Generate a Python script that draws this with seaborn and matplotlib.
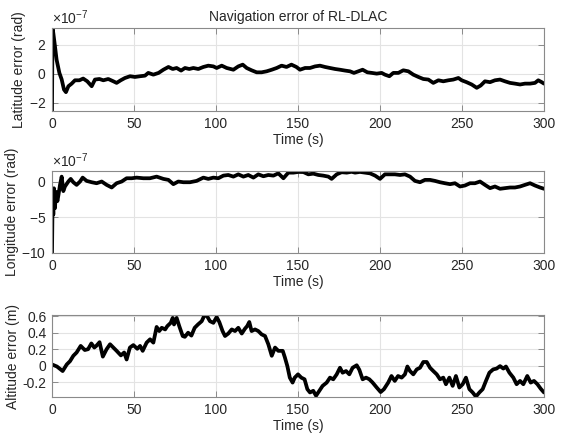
import matplotlib
matplotlib.use("Agg")
import matplotlib.pyplot as plt
import matplotlib.ticker as mticker
import numpy as np
import pandas as pd
import seaborn as sns

# ---------------- data ----------------
TIME_TICKS = [0, 50, 100, 150, 200, 250, 300]

# latitude error, units of 1e-7 rad
LAT = [(0, -2.6), (0.3, 3.1), (0.8, 2.8), (1.8, 1.9), (2.8, 0.96), (4.5, 0.05), (5.9, -0.4),
       (7.3, -1.1), (8.5, -1.28), (10, -0.87), (12, -0.69), (14, -0.46), (16.7, -0.46),
       (19, -0.34), (21.5, -0.53), (24.2, -0.87), (26.2, -0.41), (28.9, -0.37), (31.3, -0.46),
       (34.3, -0.37), (37.4, -0.53), (39.4, -0.64), (41.9, -0.46), (44.5, -0.30), (47.6, -0.18),
       (50.6, -0.23), (53.7, -0.18), (56.7, -0.14), (58.7, 0.05), (61.8, -0.07), (65, 0.05),
       (67.9, 0.27), (71, 0.46), (73.6, 0.32), (76, 0.39), (78.7, 0.21), (81.1, 0.39),
       (83.7, 0.32), (86.2, 0.39), (89.2, 0.32), (92.3, 0.46), (95.3, 0.55), (98.4, 0.50),
       (100.4, 0.39), (103.5, 0.55), (106.5, 0.39), (110.6, 0.27), (113.6, 0.50), (116.3, 0.62),
       (118.7, 0.39), (121.7, 0.23), (124.8, 0.09), (127.8, 0.09), (130.9, 0.16), (134, 0.27),
       (137, 0.39), (140, 0.55), (143, 0.46), (146, 0.62), (149, 0.46), (151.2, 0.27),
       (154.3, 0.39), (157.3, 0.39), (160.4, 0.50), (163.4, 0.55), (166.5, 0.46), (169.5, 0.39),
       (172.6, 0.32), (175.6, 0.27), (178.7, 0.21), (181.7, 0.16), (184.1, 0.05), (186.8, 0.16),
       (189.4, 0.27), (192.3, 0.09), (195, 0.05), (198, 0.0), (201, 0.05), (203, -0.07),
       (205.7, -0.18), (208.1, 0.05), (211.2, 0.05), (214.2, 0.23), (217.3, 0.16), (220.3, -0.07),
       (223.4, -0.23), (226.4, -0.37), (229.5, -0.41), (232.5, -0.64), (235.6, -0.46),
       (238.6, -0.53), (241.7, -0.46), (244.7, -0.41), (247.8, -0.30), (249.8, -0.46),
       (252.8, -0.59), (255.9, -0.75), (259, -0.98), (261.4, -0.82), (264, -0.53), (267.1, -0.59),
       (270.1, -0.46), (273.2, -0.41), (276.2, -0.53), (279.3, -0.64), (282.3, -0.69),
       (285.4, -0.75), (288.4, -0.69), (291.5, -0.69), (294.5, -0.64), (296.5, -0.46),
       (298.6, -0.59), (300, -0.69)]

# longitude error, units of 1e-7 rad
LON = [(0, -10.0), (0.4, -1.8), (0.8, -4.6), (1.2, -0.9), (1.8, -3.7), (2.4, -1.4), (3.3, -2.7),
       (4.1, -1.6), (4.9, -0.4), (5.9, 0.74), (6.9, -1.3), (7.9, -0.65), (9.96, 0.05),
       (11.4, 0.42), (13, -0.05), (15, -0.42), (17.1, 0.05), (18.7, 0.6), (21.1, 0.14),
       (24.2, -0.05), (27.2, -0.19), (30.3, 0.05), (33.3, -0.42), (36.4, -0.79), (39.4, -0.19),
       (42.5, 0.05), (45.5, 0.51), (48.6, 0.51), (51.6, 0.6), (55.7, 0.51), (59.7, 0.51),
       (63.8, 0.74), (67.9, 0.42), (71, 0.28), (74, -0.32), (77, 0.05), (80.1, -0.05),
       (84.1, -0.05), (88.2, 0.14), (92.3, 0.6), (95.3, 0.42), (98.4, 0.6), (101.4, 0.51),
       (104.5, 0.88), (107.5, 0.97), (110.6, 0.74), (113.6, 1.06), (116.7, 0.74), (119.7, 0.97),
       (122.8, 0.6), (125.8, 1.06), (128.9, 0.79), (131.9, 0.97), (135, 0.88), (138, 1.2),
       (141.1, 0.51), (144.1, 1.3), (147.2, 1.3), (150.2, 1.4), (153.3, 1.38), (156.3, 1.06),
       (159.3, 1.16), (162.4, 0.97), (165.4, 0.88), (168.5, 0.74), (170.5, 0.42), (173.6, 1.06),
       (176.6, 1.36), (179.7, 1.3), (182.7, 1.42), (184.8, 1.3), (187.8, 1.4), (190.9, 1.3),
       (193.9, 1.2), (197, 0.88), (200, 0.42), (203, 1.06), (206.1, 1.06), (209.1, 1.06),
       (212.2, 0.97), (215.2, 1.06), (218.3, 0.74), (221.3, 0.14), (224.4, -0.05), (227.4, 0.28),
       (230.5, 0.28), (233.5, 0.14), (236.6, -0.05), (239.6, -0.19), (242.7, -0.32),
       (245.7, -0.19), (248.8, -0.65), (251.8, -0.51), (254.9, -0.19), (257.9, -0.19),
       (261, 0.05), (264, -0.42), (267.1, -0.88), (270.1, -0.65), (273.2, -0.97), (276.2, -0.88),
       (279.3, -0.79), (282.3, -0.79), (285.4, -0.65), (288.4, -0.42), (291.5, -0.19),
       (294.5, -0.51), (297.6, -0.79), (300, -0.97)]

# altitude error, m
ALT = [(0, 0.015), (3, -0.01), (6.5, -0.065), (9, 0.015), (11, 0.055), (13, 0.12), (15, 0.16),
       (17.5, 0.24), (20, 0.19), (22, 0.20), (24, 0.27), (25.8, 0.22), (27, 0.24), (29, 0.285),
       (31, 0.11), (33.3, 0.20), (35.4, 0.26), (37.4, 0.22), (39.4, 0.18), (42, 0.125),
       (44, 0.16), (45.5, 0.075), (47.5, 0.22), (49.6, 0.25), (52, 0.205), (53.7, 0.24),
       (55.3, 0.18), (57.7, 0.28), (59.8, 0.32), (61.8, 0.28), (63.8, 0.47), (65.4, 0.42),
       (66.9, 0.46), (69, 0.44), (70.3, 0.48), (72.4, 0.52), (73.6, 0.58), (74.4, 0.50),
       (76, 0.58), (77.6, 0.48), (79.7, 0.36), (81, 0.35), (83, 0.40), (85, 0.365), (87, 0.46),
       (89, 0.50), (91.3, 0.54), (92.7, 0.60), (94.3, 0.61), (96.3, 0.54), (98.4, 0.52),
       (100.4, 0.59), (102, 0.53), (104, 0.42), (105.5, 0.36), (107.5, 0.39), (109.6, 0.44),
       (111.6, 0.42), (113.6, 0.46), (115.7, 0.39), (117.7, 0.45), (119, 0.48), (120.3, 0.53),
       (121.7, 0.42), (123.8, 0.44), (125.8, 0.42), (127.8, 0.38), (129.9, 0.36), (131.9, 0.26),
       (134, 0.12), (136, 0.22), (138, 0.18), (140.7, 0.18), (142, 0.10), (143.5, -0.005),
       (145, -0.145), (146.7, -0.205), (148, -0.145), (150, -0.105), (152, -0.145),
       (154, -0.165), (155.7, -0.285), (157.3, -0.325), (159.3, -0.305), (161, -0.365),
       (163, -0.305), (165, -0.245), (167.5, -0.205), (169.5, -0.145), (171.5, -0.165),
       (173.6, -0.105), (175.6, -0.025), (177.2, -0.085), (179.3, -0.065), (181.3, -0.105),
       (183.3, -0.025), (185.8, 0.005), (187.4, -0.05), (189.4, -0.165), (191.5, -0.145),
       (193.5, -0.165), (195.5, -0.205), (198, -0.265), (200.4, -0.32), (202.4, -0.285),
       (205, -0.205), (207, -0.125), (209, -0.185), (211, -0.125), (213.2, -0.145),
       (215.2, -0.105), (216.7, -0.01), (218.3, -0.065), (220.3, -0.105), (222.4, -0.045),
       (224.4, -0.025), (226.4, 0.045), (228.5, 0.045), (230.5, -0.025), (232.5, -0.065),
       (234.6, -0.105), (236.6, -0.165), (238.6, -0.145), (240.2, -0.225), (242.3, -0.145),
       (244.3, -0.245), (246.3, -0.125), (248.4, -0.265), (250.4, -0.225), (252.4, -0.145),
       (254.5, -0.285), (256.5, -0.325), (258.5, -0.375), (260.6, -0.325), (262.6, -0.285),
       (264.6, -0.185), (266.7, -0.085), (269, -0.045), (271.1, -0.035), (273.2, -0.005),
       (275.2, -0.035), (276.8, -0.01), (278.9, -0.085), (281.3, -0.145), (283.3, -0.225),
       (285.4, -0.185), (287.4, -0.225), (289.8, -0.125), (291.9, -0.205), (293.9, -0.185),
       (296, -0.225), (298, -0.28), (300, -0.325)]

LAT_TICKS = [-2e-7, 0, 2e-7]
LON_TICKS = [-10e-7, -5e-7, 0]
ALT_TICKS = [-0.2, 0, 0.2, 0.4, 0.6]

TITLE = "Navigation error of RL-DLAC"
XLABEL = "Time (s)"
YLABELS = ["Latitude error (rad)", "Longitude error (rad)", "Altitude error (m)"]

# ---------------- styling ----------------
sns.set_theme(style="whitegrid")
plt.rcParams["font.family"] = ["Liberation Sans", "DejaVu Sans"]
plt.rcParams["axes.unicode_minus"] = False
plt.rcParams["mathtext.fontset"] = "custom"
plt.rcParams["mathtext.rm"] = "Liberation Sans"
plt.rcParams["mathtext.it"] = "Liberation Sans"

FRAME = "#8a8a8a"
TEXT = "#262626"
GRID = "#e3e3e3"

fig = plt.figure(figsize=(5.67, 4.36), dpi=100)
W, H = 567, 436
boxes = [(52, 28, 544, 111), (52, 171, 544, 253), (52, 315, 544, 397)]
axes = [fig.add_axes([l / W, 1 - b / H, (r - l) / W, (b - t) / H]) for (l, t, r, b) in boxes]

series = [
    (pd.DataFrame(LAT, columns=["t", "v"]).assign(v=lambda d: d.v * 1e-7), (-2.58e-7, 3.15e-7), LAT_TICKS),
    (pd.DataFrame(LON, columns=["t", "v"]).assign(v=lambda d: d.v * 1e-7), (-10e-7, 1.53e-7), LON_TICKS),
    (pd.DataFrame(ALT, columns=["t", "v"]), (-0.38, 0.615), ALT_TICKS),
]

for i, (ax, (df, ylim, yt)) in enumerate(zip(axes, series)):
    sns.lineplot(data=df, x="t", y="v", ax=ax, color="black", linewidth=2.7,
                 estimator=None, sort=False)
    ax.set_xlim(0, 300)
    ax.set_ylim(*ylim)
    ax.set_xticks(TIME_TICKS)
    ax.set_yticks(yt)
    ax.set_facecolor("white")
    ax.grid(True, color=GRID, linewidth=0.8)
    for s in ax.spines.values():
        s.set_color(FRAME)
        s.set_linewidth(0.8)
    ax.tick_params(direction="in", length=4, width=0.7, color=FRAME, labelcolor=TEXT,
                   labelsize=10, top=True, right=True, bottom=True, left=True, pad=4)
    ax.set_xlabel(XLABEL, fontsize=10, color=TEXT, labelpad=2)
    ax.set_ylabel(YLABELS[i], fontsize=10, color=TEXT, labelpad=2)
    if i < 2:
        fmt = mticker.ScalarFormatter(useMathText=True)
        fmt.set_powerlimits((-7, -7))
        ax.yaxis.set_major_formatter(fmt)
        ax.yaxis.get_offset_text().set_fontsize(10)
        ax.yaxis.get_offset_text().set_color(TEXT)
    else:
        ax.yaxis.set_major_formatter(mticker.FuncFormatter(lambda v, p: "%g" % round(v, 6)))

axes[0].set_title(TITLE, fontsize=10, color=TEXT, pad=5)

fig.savefig("out.png", dpi=100, facecolor="white")
